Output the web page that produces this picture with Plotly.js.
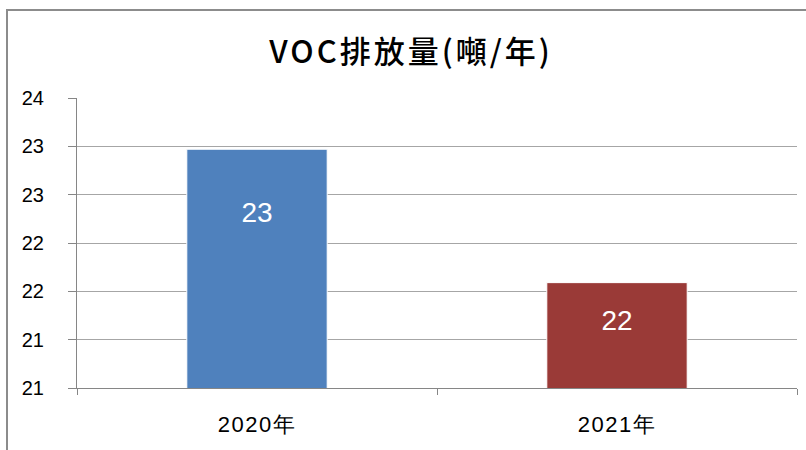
<!DOCTYPE html>
<html>
<head>
<meta charset="utf-8">
<script src="https://cdn.plot.ly/plotly-3.0.1.min.js"></script>
<style>
html,body{margin:0;padding:0;background:#fff;}
#wrap{position:relative;width:806px;height:450px;}
#chart{position:absolute;left:0;top:0;width:806px;height:450px;}
#frame{position:absolute;left:6px;top:9px;width:800px;height:441px;border-top:2px solid #8c8c8c;border-left:2px solid #8c8c8c;box-sizing:border-box;pointer-events:none;}
#chart .gtitle{letter-spacing:3px;}
#chart .xtick text{letter-spacing:1.5px;}
</style>
</head>
<body>
<div id="wrap"><div id="chart"></div><div id="frame"></div></div>
<script>
const categories = ["2020年", "2021年"];
const values = [23.47, 22.09];
const valueLabels = ["23", "22"];
const barColors = ["#4F81BD", "#9A3A37"];
const yTickVals = [21, 21.5, 22, 22.5, 23, 23.5, 24];
const yTickText = ["21", "21", "22", "22", "23", "23", "24"];

const labelY = values.map(v => 19.9 + (v - 19.9) * 0.81);

const bars = {
  type: "bar",
  x: categories,
  y: values,
  marker: {color: barColors, line: {color: "#ffffff", width: 1}},
  hoverinfo: "none",
  showlegend: false
};
const labels = {
  type: "scatter",
  mode: "text",
  x: categories,
  y: labelY,
  text: valueLabels,
  textfont: {family: "Liberation Sans, Arial, sans-serif", size: 28, color: "#ffffff"},
  hoverinfo: "none",
  showlegend: false
};

const layout = {
  width: 806, height: 450,
  margin: {l: 77, r: 9, t: 98, b: 62},
  paper_bgcolor: "#ffffff",
  plot_bgcolor: "#ffffff",
  bargap: 0.61,
  title: {
    text: "VOC排放量(噸/年)",
    font: {family: "Noto Sans CJK TC, sans-serif", size: 31, weight: 500, color: "#000000"},
    x: 0.51, xanchor: "center", y: 0.885, yanchor: "middle"
  },
  xaxis: {
    type: "category",
    showline: true, linecolor: "#868686", linewidth: 1,
    ticks: "outside", tickson: "boundaries", ticklen: 6, tickcolor: "#868686",
    ticklabelstandoff: 17,
    tickfont: {family: "Liberation Sans, Arial, sans-serif", size: 22, color: "#000000"},
    showgrid: false, zeroline: false, fixedrange: true
  },
  yaxis: {
    range: [21, 24],
    tickvals: yTickVals, ticktext: yTickText,
    showline: true, linecolor: "#868686", linewidth: 1,
    ticks: "outside", ticklen: 8, tickcolor: "#868686",
    ticklabelstandoff: 20,
    tickfont: {family: "Liberation Sans, Arial, sans-serif", size: 20, color: "#000000"},
    showgrid: true, gridcolor: "#a6a6a6", gridwidth: 1,
    zeroline: false, fixedrange: true
  }
};

Plotly.newPlot("chart", [bars, labels], layout, {displayModeBar: false, staticPlot: true});
</script>
</body>
</html>
